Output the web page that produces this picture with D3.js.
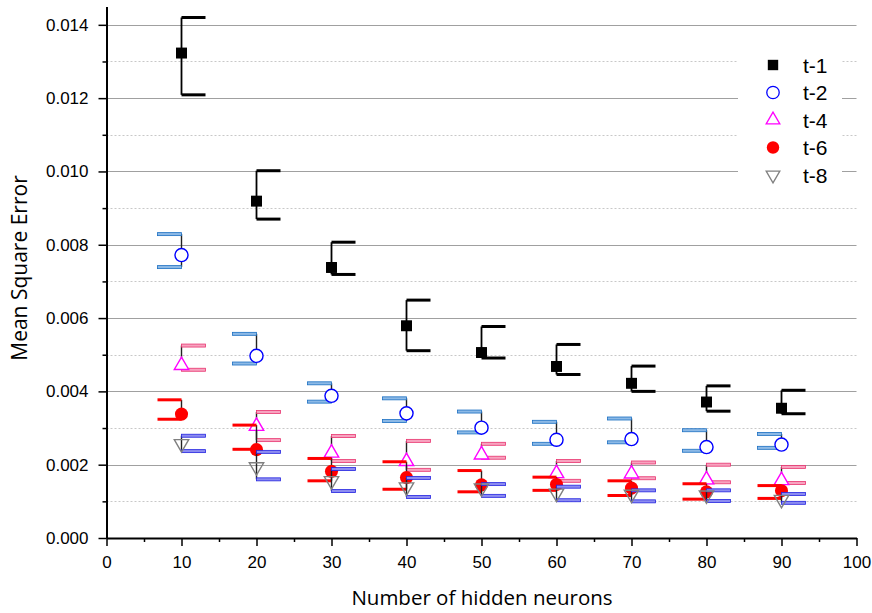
<!DOCTYPE html>
<html>
<head>
<meta charset="utf-8">
<script src="https://cdn.jsdelivr.net/npm/d3@7"></script>
<style>
  body { margin: 0; background: #fff; }
  svg { display: block; }
</style>
</head>
<body>
<svg id="chart" width="872" height="613"></svg>
<script>
// hidden neurons on the x axis
const neurons = [10, 20, 30, 40, 50, 60, 70, 80, 90];
const seriesNames = ["t-1", "t-2", "t-4", "t-6", "t-8"];

// mean square error, with upper / lower ends of the error bars
const t1Mean = [0.01323, 0.00919, 0.00738, 0.00579, 0.00506, 0.00468, 0.00422, 0.00371, 0.00354];
const t1High = [0.01420, 0.01002, 0.00807, 0.00649, 0.00577, 0.00528, 0.00469, 0.00415, 0.00403];
const t1Low  = [0.01209, 0.00870, 0.00719, 0.00511, 0.00491, 0.00446, 0.00400, 0.00346, 0.00339];

const t2Mean = [0.00772, 0.00497, 0.00388, 0.00340, 0.00301, 0.00268, 0.00270, 0.00248, 0.00255];
const t2High = [0.00829, 0.00557, 0.00422, 0.00381, 0.00345, 0.00317, 0.00326, 0.00294, 0.00284];
const t2Low  = [0.00739, 0.00476, 0.00372, 0.00319, 0.00288, 0.00257, 0.00261, 0.00238, 0.00246];

const t4Mean = [0.00471, 0.00305, 0.00232, 0.00209, 0.00227, 0.00176, 0.00175, 0.00159, 0.00157];
const t4High = [0.00525, 0.00344, 0.00278, 0.00265, 0.00257, 0.00210, 0.00206, 0.00200, 0.00194];
const t4Low  = [0.00459, 0.00267, 0.00210, 0.00186, 0.00219, 0.00156, 0.00163, 0.00152, 0.00150];

const t6Mean = [0.00338, 0.00241, 0.00182, 0.00165, 0.00145, 0.00146, 0.00136, 0.00126, 0.00129];
const t6High = [0.00377, 0.00308, 0.00217, 0.00208, 0.00184, 0.00166, 0.00156, 0.00148, 0.00143];
const t6Low  = [0.00324, 0.00242, 0.00156, 0.00133, 0.00126, 0.00130, 0.00116, 0.00106, 0.00108];

const t8Mean = [0.00257, 0.00194, 0.00156, 0.00139, 0.00136, 0.00122, 0.00119, 0.00117, 0.00105];
const t8High = [0.00279, 0.00235, 0.00188, 0.00164, 0.00147, 0.00140, 0.00130, 0.00130, 0.00120];
const t8Low  = [0.00237, 0.00160, 0.00128, 0.00112, 0.00115, 0.00103, 0.00100, 0.00101, 0.00096];

const xTicks = [0, 10, 20, 30, 40, 50, 60, 70, 80, 90, 100];
const yTicks = [0, 0.002, 0.004, 0.006, 0.008, 0.010, 0.012, 0.014];

// look of each series (marker, cap side, colours)
const styles = [
  { symbol: d3.symbolSquare, size: 120, fill: "#000", stroke: "none", rot: 0,
    side: 1, cap: "line", capColor: "#000", capFill: "#000", capW: 3 },
  { symbol: d3.symbolCircle, size: 135, fill: "#fff", stroke: "#0000ff", rot: 0,
    side: -1, cap: "box", capColor: "#1b6fc2", capFill: "#8cb9e6" },
  { symbol: d3.symbolTriangle, size: 90, fill: "#fff", stroke: "#ff00ff", rot: 0,
    side: 1, cap: "box", capColor: "#e8336f", capFill: "#f7a3bf" },
  { symbol: d3.symbolCircle, size: 135, fill: "#ff0000", stroke: "none", rot: 0,
    side: -1, cap: "line", capColor: "#ff0000", capFill: "#ff0000", capW: 3 },
  { symbol: d3.symbolTriangle, size: 90, fill: "none", stroke: "#808080", rot: 180,
    side: 1, cap: "box", capColor: "#2424e0", capFill: "#8c8cf0" }
];

const series = [
  [t1Mean, t1High, t1Low],
  [t2Mean, t2High, t2Low],
  [t4Mean, t4High, t4Low],
  [t6Mean, t6High, t6Low],
  [t8Mean, t8High, t8Low]
];

const svg = d3.select("#chart");

const x = d3.scaleLinear().domain([0, 100]).range([106.5, 856.5]);
const y = d3.scaleLinear().domain([0, 0.0145]).range([538, 6.5]);

// grid lines
const grid = svg.append("g");
grid.selectAll(".minor")
  .data(d3.range(0.001, 0.0145, 0.002))
  .enter()
  .append("line")
  .attr("x1", x(0)).attr("x2", x(100))
  .attr("y1", (d) => Math.round(y(d)) + 0.5)
  .attr("y2", (d) => Math.round(y(d)) + 0.5)
  .attr("stroke", "#c8c8c8")
  .attr("stroke-dasharray", "2,2");
grid.selectAll(".major")
  .data(yTicks.slice(1))
  .enter()
  .append("line")
  .attr("x1", x(0)).attr("x2", x(100))
  .attr("y1", (d) => Math.round(y(d)) + 0.5)
  .attr("y2", (d) => Math.round(y(d)) + 0.5)
  .attr("stroke", "#a0a0a0")
  .attr("stroke-width", 1.2);

// legend background hides the grid behind it
svg.append("rect")
  .attr("x", 738).attr("y", 42)
  .attr("width", 104).attr("height", 150)
  .attr("fill", "#fff");

// axes
const tickFont = "'Liberation Sans', Arial, sans-serif";

svg.append("g")
  .attr("transform", `translate(0,${y(0)})`)
  .call(d3.axisBottom(x).tickValues(xTicks).tickSize(8).tickPadding(10).tickSizeOuter(0));
svg.append("g")
  .attr("transform", `translate(0,${y(0)})`)
  .call(d3.axisBottom(x).tickValues(d3.range(5, 100, 10)).tickSize(4).tickFormat("").tickSizeOuter(0))
  .select(".domain").remove();

svg.append("g")
  .attr("transform", `translate(${x(0)},0)`)
  .call(d3.axisLeft(y).tickValues(yTicks).tickFormat(d3.format(".3f")).tickSize(8).tickPadding(10).tickSizeOuter(0));
svg.append("g")
  .attr("transform", `translate(${x(0)},0)`)
  .call(d3.axisLeft(y).tickValues(d3.range(0.001, 0.0145, 0.002)).tickSize(4).tickFormat("").tickSizeOuter(0))
  .select(".domain").remove();

svg.selectAll(".domain").attr("stroke", "#000").attr("stroke-width", 2);
svg.selectAll(".tick line").attr("stroke", "#000").attr("stroke-width", 1.5);
svg.selectAll(".tick text")
  .attr("font-family", tickFont)
  .attr("font-size", 17)
  .attr("fill", "#000");

// axis titles
svg.append("text")
  .attr("x", 482).attr("y", 605)
  .attr("text-anchor", "middle")
  .attr("font-family", "'Open Sans', sans-serif")
  .attr("font-size", 20.5)
  .text("Number of hidden neurons");

svg.append("text")
  .attr("transform", "translate(27,268) rotate(-90)")
  .attr("text-anchor", "middle")
  .attr("font-family", "'Open Sans', sans-serif")
  .attr("font-size", 21)
  .text("Mean Square Error");

// series: error bars, then markers
const capLen = 24;
series.forEach((s, i) => {
  const st = styles[i];
  const [mean, high, low] = s;
  const g = svg.append("g");

  g.selectAll(".stem")
    .data(neurons)
    .enter()
    .append("line")
    .attr("x1", (d) => x(d)).attr("x2", (d) => x(d))
    .attr("y1", (d, j) => y(high[j]))
    .attr("y2", (d, j) => y(low[j]))
    .attr("stroke", i === 0 ? "#000" : "#222")
    .attr("stroke-width", i === 0 ? 1.8 : 1.4);

  [high, low].forEach((ends) => {
    if (st.cap === "line") {
      g.selectAll(null)
        .data(neurons)
        .enter()
        .append("line")
        .attr("x1", (d) => x(d))
        .attr("x2", (d) => x(d) + st.side * capLen)
        .attr("y1", (d, j) => y(ends[j]))
        .attr("y2", (d, j) => y(ends[j]))
        .attr("stroke", st.capColor)
        .attr("stroke-width", st.capW);
    } else {
      g.selectAll(null)
        .data(neurons)
        .enter()
        .append("rect")
        .attr("x", (d) => (st.side > 0 ? x(d) : x(d) - capLen))
        .attr("y", (d, j) => y(ends[j]) - 1.5)
        .attr("width", capLen)
        .attr("height", 3)
        .attr("fill", st.capFill)
        .attr("stroke", st.capColor)
        .attr("stroke-width", 0.8);
    }
  });

  g.selectAll(".pt")
    .data(neurons)
    .enter()
    .append("path")
    .attr("d", d3.symbol().type(st.symbol).size(st.size))
    .attr("transform", (d, j) => `translate(${x(d)},${y(mean[j])}) rotate(${st.rot})`)
    .attr("fill", st.fill)
    .attr("stroke", st.stroke)
    .attr("stroke-width", 1.4);
});

// legend
const legend = svg.append("g");
seriesNames.forEach((name, i) => {
  const st = styles[i];
  const ly = 65 + i * 27.5;
  legend.append("path")
    .attr("d", d3.symbol().type(st.symbol).size(st.size * 0.9))
    .attr("transform", `translate(773,${ly}) rotate(${st.rot})`)
    .attr("fill", st.fill === "none" ? "#fff" : st.fill)
    .attr("stroke", st.stroke)
    .attr("stroke-width", 1.3);
  legend.append("text")
    .attr("x", 803).attr("y", ly + 7.5)
    .attr("font-family", tickFont)
    .attr("font-size", 21)
    .text(name);
});
</script>
</body>
</html>
